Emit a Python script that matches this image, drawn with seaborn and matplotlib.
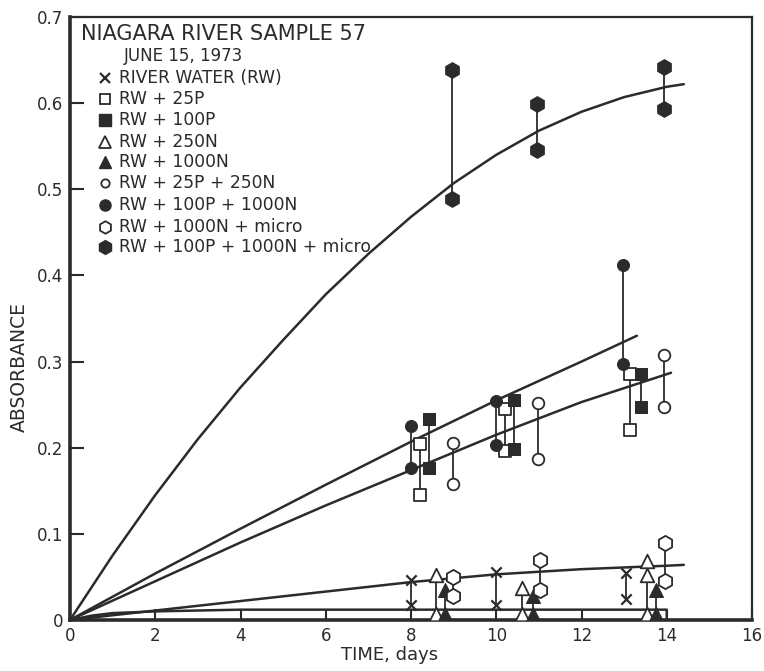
import numpy as np
import pandas as pd
import matplotlib
matplotlib.use("Agg")
import matplotlib.pyplot as plt
import seaborn as sns
from matplotlib.lines import Line2D

# ---------------- data ----------------
# measured points: time (days) and absorbance per treatment
rw_t = [8.0, 8.0, 10.0, 10.0, 13.05, 13.05]
rw_y = [0.046, 0.017, 0.056, 0.017, 0.054, 0.024]

p25_t = [8.2, 8.2, 10.2, 10.2, 13.13, 13.13]
p25_y = [0.204, 0.145, 0.245, 0.196, 0.286, 0.220]

p100_t = [8.42, 8.42, 10.41, 10.41, 13.4, 13.4]
p100_y = [0.233, 0.177, 0.255, 0.198, 0.286, 0.247]

n250_t = [8.58, 8.58, 10.61, 10.61, 13.54, 13.54, 13.54]
n250_y = [0.052, 0.007, 0.037, 0.007, 0.069, 0.052, 0.007]

n1000_t = [8.79, 8.79, 10.86, 10.86, 13.75, 13.75]
n1000_y = [0.035, 0.007, 0.028, 0.007, 0.035, 0.007]

p25n250_t = [8.99, 8.99, 10.98, 10.98, 13.93, 13.93]
p25n250_y = [0.205, 0.158, 0.252, 0.187, 0.308, 0.247]

p100n1000_t = [7.99, 7.99, 9.99, 9.99, 12.97, 12.97]
p100n1000_y = [0.225, 0.176, 0.254, 0.203, 0.412, 0.297]

n1000m_t = [8.99, 8.99, 11.02, 11.02, 13.95, 13.95]
n1000m_y = [0.050, 0.028, 0.070, 0.035, 0.089, 0.045]

p100n1000m_t = [8.96, 8.96, 10.95, 10.95, 13.93, 13.93]
p100n1000m_y = [0.638, 0.489, 0.599, 0.546, 0.642, 0.593]

# fitted curves
curve_micro_t = [0, 1, 2, 3, 4, 5, 6, 7, 8, 9, 10, 11, 12, 13, 14, 14.4]
curve_micro_y = [0, 0.075, 0.145, 0.210, 0.270, 0.325, 0.378, 0.425, 0.468,
                 0.507, 0.540, 0.568, 0.590, 0.607, 0.619, 0.622]
curve_pa_t = [0, 2, 4, 6, 8, 10, 12, 13.3]
curve_pa_y = [0, 0.054, 0.106, 0.157, 0.207, 0.255, 0.300, 0.330]
curve_pb_t = [0, 2, 4, 6, 8, 10, 12, 14.1]
curve_pb_y = [0, 0.045, 0.090, 0.133, 0.174, 0.215, 0.253, 0.287]
curve_rw_t = [0, 2, 4, 6, 8, 10, 12, 14, 14.4]
curve_rw_y = [0, 0.011, 0.022, 0.033, 0.044, 0.053, 0.059, 0.063, 0.064]
curve_low_t = [0, 0.5, 1, 2, 3, 4, 14, 14]
curve_low_y = [0, 0.005, 0.008, 0.010, 0.011, 0.012, 0.012, 0]

labels = ["RIVER WATER (RW)", "RW + 25P", "RW + 100P", "RW + 250N", "RW + 1000N",
          "RW + 25P + 250N", "RW + 100P + 1000N", "RW + 1000N + micro",
          "RW + 100P + 1000N + micro"]

x_ticks = [0, 2, 4, 6, 8, 10, 12, 14, 16]
y_ticks = [0, 0.1, 0.2, 0.3, 0.4, 0.5, 0.6, 0.7]
y_tick_labels = ["0", "0.1", "0.2", "0.3", "0.4", "0.5", "0.6", "0.7"]

# ---------------- styling ----------------
INK = "#2b2b2b"
sns.set_style("ticks")
plt.rcParams["font.family"] = ["DejaVu Sans"]

series = [
    (rw_t, rw_y, dict(marker="x", s=55, color=INK, linewidths=1.6)),
    (p25_t, p25_y, dict(marker="s", s=80, facecolor="white", edgecolor=INK, linewidth=1.3)),
    (p100_t, p100_y, dict(marker="s", s=85, color=INK, edgecolor=INK)),
    (n250_t, n250_y, dict(marker="^", s=95, facecolor="white", edgecolor=INK, linewidth=1.3)),
    (n1000_t, n1000_y, dict(marker="^", s=100, color=INK, edgecolor=INK)),
    (p25n250_t, p25n250_y, dict(marker="o", s=70, facecolor="white", edgecolor=INK, linewidth=1.3)),
    (p100n1000_t, p100n1000_y, dict(marker="o", s=75, color=INK, edgecolor=INK)),
    (n1000m_t, n1000m_y, dict(marker="h", s=120, facecolor="white", edgecolor=INK, linewidth=1.3)),
    (p100n1000m_t, p100n1000m_y, dict(marker="h", s=125, color=INK, edgecolor=INK)),
]

W, H = 764, 671
fig = plt.figure(figsize=(W / 100, H / 100), dpi=100)
ax = fig.add_axes([70 / W, 1 - 620 / H, (752 - 70) / W, (620 - 17) / H])
ax.set_facecolor("white")

# curves
for ct, cy in [(curve_micro_t, curve_micro_y), (curve_pa_t, curve_pa_y),
               (curve_pb_t, curve_pb_y), (curve_rw_t, curve_rw_y),
               (curve_low_t, curve_low_y)]:
    sns.lineplot(x=ct, y=cy, sort=False, estimator=None, color=INK, lw=1.8, ax=ax, zorder=2)

# vertical connectors (min to max of replicates at each time)
for t, y, _ in series:
    df = pd.DataFrame({"t": t, "y": y})
    g = df.groupby("t")["y"].agg(["min", "max"]).reset_index()
    ax.vlines(g["t"], g["min"], g["max"], color=INK, lw=1.3, zorder=2)

# markers
for t, y, kw in series:
    sns.scatterplot(x=t, y=y, ax=ax, zorder=4, legend=False, **kw)

ax.set_xlim(0, 16)
ax.set_ylim(0, 0.7)
ax.set_xticks(x_ticks)
ax.set_xticklabels([str(v) for v in x_ticks])
ax.set_yticks(y_ticks)
ax.set_yticklabels(y_tick_labels)
ax.tick_params(direction="in", colors=INK, labelcolor=INK, labelsize=12, width=1.5)
ax.tick_params(axis="x", length=8, pad=5)
ax.tick_params(axis="y", length=10, pad=5)
for side in ["left", "bottom"]:
    ax.spines[side].set_linewidth(2.6)
for side in ["top", "right"]:
    ax.spines[side].set_linewidth(1.6)
for sp in ax.spines.values():
    sp.set_color(INK)
    sp.set_visible(True)

ax.set_xlabel("TIME, days", fontsize=13, color=INK)
ax.set_ylabel("ABSORBANCE", fontsize=13.5, color=INK)
ax.xaxis.set_label_coords((390 - 70) / 682, (620 - 646) / 603)
ax.yaxis.set_label_coords((29 - 70) / 682, (620 - 367) / 603)

# legend block (drawn manually in figure pixel coordinates)
def fy(py):
    return 1 - py / H

fig.text(81 / W, fy(34), "NIAGARA RIVER SAMPLE 57", fontsize=15, color=INK, va="center", ha="left")
fig.text(124 / W, fy(56), "JUNE 15, 1973", fontsize=12, color=INK, va="center", ha="left")

leg_marks = [
    dict(marker="x", ms=7, mew=1.6, color=INK),
    dict(marker="s", ms=7, mfc="white", mec=INK, mew=1.3),
    dict(marker="s", ms=8, mfc=INK, mec=INK),
    dict(marker="^", ms=8.5, mfc="white", mec=INK, mew=1.3),
    dict(marker="^", ms=9, mfc=INK, mec=INK),
    dict(marker="o", ms=6, mfc="white", mec=INK, mew=1.3),
    dict(marker="o", ms=8, mfc=INK, mec=INK),
    dict(marker="h", ms=9, mfc="white", mec=INK, mew=1.3),
    dict(marker="h", ms=10, mfc=INK, mec=INK),
]
rows_py = [78, 99, 120, 142, 162, 183, 205, 227, 247]
for lab, mk, py in zip(labels, leg_marks, rows_py):
    fig.add_artist(Line2D([105 / W], [fy(py)], transform=fig.transFigure, linestyle="none", **mk))
    fig.text(119 / W, fy(py), lab, fontsize=12.3, color=INK, va="center", ha="left")

fig.savefig("out.png", dpi=100, facecolor="white")
